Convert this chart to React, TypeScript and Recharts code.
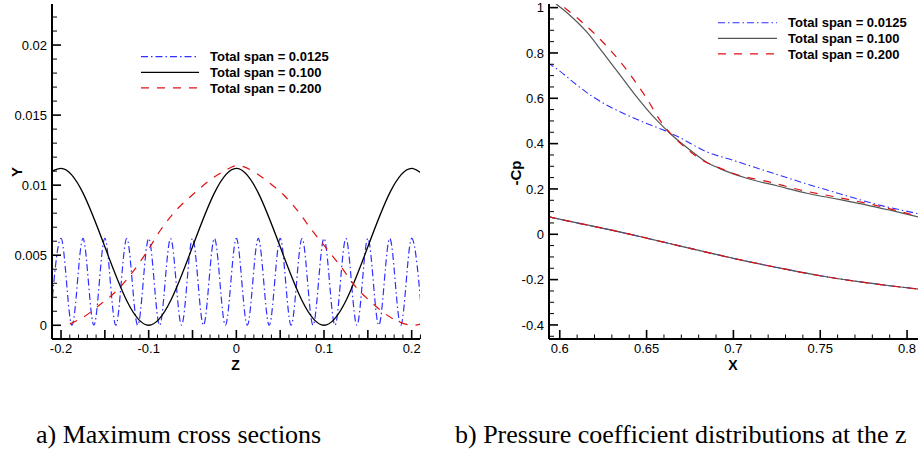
import React from "react";
import { Line, LineChart, XAxis, YAxis } from "recharts";

const SANS = '"Liberation Sans", Arial, Helvetica, sans-serif';
const SERIF = '"Liberation Serif", "Times New Roman", serif';

const BLUE = "#2f2fff";
const RED = "#e01010";

// ---- panel a) maximum cross sections ----
const zTickLabels = [-0.2, -0.1, 0, 0.1, 0.2];
const zMajorTicks = [-0.2, -0.15, -0.1, -0.05, 0, 0.05, 0.1, 0.15, 0.2];
const yTickLabels = [0, 0.005, 0.01, 0.015, 0.02];

const span0125Z = [
  -0.2125, -0.2, -0.1875, -0.175, -0.1625, -0.15, -0.1375, -0.125, -0.1125, -0.1, -0.0875, -0.075,
  -0.0625, -0.05, -0.0375, -0.025, -0.0125, 0, 0.0125, 0.025, 0.0375, 0.05, 0.0625, 0.075, 0.0875,
  0.1, 0.1125, 0.125, 0.1375, 0.15, 0.1625, 0.175, 0.1875, 0.2, 0.2125,
];
const span0125Y = [
  0, 0.0062, 0, 0.0062, 0, 0.0062, 0, 0.0062, 0, 0.0062, 0, 0.0062, 0, 0.0062, 0, 0.0062, 0, 0.0062,
  0, 0.0062, 0, 0.0062, 0, 0.0062, 0, 0.0062, 0, 0.0062, 0, 0.0062, 0, 0.0062, 0, 0.0062, 0,
];

const span100Z = [-0.21, -0.2, -0.1, 0, 0.1, 0.2, 0.21];
const span100Y = [0.011, 0.0112, 0, 0.0112, 0, 0.0112, 0.0109];

const span200Z = [
  -0.19, -0.174, -0.155, -0.136, -0.117, -0.1015, -0.0864, -0.0673, -0.0484, -0.0293, -0.0141, 0.001,
  0.024, 0.039, 0.054, 0.0696, 0.0848, 0.1038, 0.119, 0.138, 0.153, 0.168, 0.1837, 0.2026, 0.21,
];
const span200Y = [
  0.0001, 0.0006, 0.0015, 0.0025, 0.0039, 0.0053, 0.0068, 0.0083, 0.0094, 0.0104, 0.011, 0.0114,
  0.0108, 0.0101, 0.0093, 0.0082, 0.0069, 0.0054, 0.0042, 0.0026, 0.0017, 0.0009, 0.0003, 0, 0.0001,
];

// ---- panel b) pressure coefficient ----
const xTickLabels = [0.6, 0.65, 0.7, 0.75, 0.8];
const cpTickLabels = [-0.4, -0.2, 0, 0.2, 0.4, 0.6, 0.8, 1];

const cp0125UpperX = [0.593, 0.6, 0.6096, 0.619, 0.6288, 0.6385, 0.649, 0.6587, 0.6682, 0.6846, 0.7, 0.723, 0.7423, 0.7616, 0.78, 0.807];
const cp0125Upper = [0.757, 0.72, 0.66, 0.607, 0.563, 0.527, 0.492, 0.463, 0.43, 0.364, 0.326, 0.269, 0.222, 0.178, 0.137, 0.09];

const cp100UpperX = [0.593, 0.598, 0.605, 0.615, 0.625, 0.635, 0.645, 0.655, 0.665, 0.675, 0.6846, 0.6913, 0.7077, 0.725, 0.7423, 0.76, 0.777, 0.792, 0.807];
const cp100Upper = [1.05, 1.016, 0.972, 0.897, 0.8, 0.7, 0.6, 0.51, 0.435, 0.372, 0.318, 0.293, 0.247, 0.214, 0.181, 0.155, 0.129, 0.103, 0.076];

const cp200UpperX = [0.596, 0.6, 0.61, 0.62, 0.63, 0.64, 0.65, 0.658, 0.6654, 0.674, 0.6817, 0.6913, 0.7, 0.72, 0.74, 0.76, 0.78, 0.807];
const cp200Upper = [1.05, 1.019, 0.955, 0.885, 0.805, 0.71, 0.6, 0.5, 0.431, 0.372, 0.328, 0.295, 0.268, 0.232, 0.193, 0.163, 0.131, 0.078];

const cpLowerX = [0.593, 0.61, 0.63, 0.65, 0.67, 0.69, 0.71, 0.73, 0.75, 0.77, 0.79, 0.807];
const cpLower = [0.078, 0.05, 0.018, -0.017, -0.053, -0.089, -0.123, -0.154, -0.183, -0.207, -0.227, -0.242];

const legendLabels = ["Total span = 0.0125", "Total span = 0.100", "Total span = 0.200"];
const captions = ["a) Maximum cross sections", "b) Pressure coefficient distributions at the z"];

const pts = (xs: number[], ys: number[]) => xs.map((x, i) => ({ x, y: ys[i] }));

function steps(from: number, to: number, step: number) {
  const out: number[] = [];
  for (let v = from; v <= to + step / 2; v += step) out.push(Math.round(v * 1e6) / 1e6);
  return out;
}

const near = (v: number, arr: number[]) => arr.some((a) => Math.abs(a - v) < 1e-7);
const isMult = (v: number, m: number) => Math.abs(v / m - Math.round(v / m)) < 1e-6;

function BottomTick(props: any) {
  const { x, y, payload, labels, majorOf } = props;
  const v = payload.value;
  const major = majorOf(v);
  return (
    <g>
      <line x1={x} y1={y} x2={x} y2={y - (major ? 9 : 4.5)} stroke="#000" strokeWidth={major ? 1.6 : 1} />
      {near(v, labels) && (
        <text x={x} y={y + 13.5} textAnchor="middle" fontSize={13} fontFamily={SANS} fill="#000">
          {String(v)}
        </text>
      )}
    </g>
  );
}

function LeftTick(props: any) {
  const { x, y, payload, labels } = props;
  const v = payload.value;
  const major = near(v, labels);
  return (
    <g>
      <line x1={x} y1={y} x2={x + (major ? 9 : 5)} y2={y} stroke="#000" strokeWidth={major ? 1.6 : 1} />
      {major && (
        <text x={x - 5} y={y} dy={4.6} textAnchor="end" fontSize={13} fontFamily={SANS} fill="#000">
          {String(v)}
        </text>
      )}
    </g>
  );
}

function Legend({ left, top, lineLen, colors, dashes, widths }: any) {
  return (
    <g>
      {legendLabels.map((label, i) => {
        const y = top + i * 15.6;
        return (
          <g key={label}>
            <line x1={left} x2={left + lineLen} y1={y} y2={y} stroke={colors[i]} strokeWidth={widths[i]} strokeDasharray={dashes[i]} />
            <text x={left + lineLen + 11} y={y + 4.6} fontSize={13} fontWeight="bold" fontFamily={SANS} fill="#000">
              {label}
            </text>
          </g>
        );
      })}
    </g>
  );
}

const axisLine = { stroke: "#000", strokeWidth: 2 };

export default function App() {
  const zTicks = steps(-0.21, 0.21, 0.01);
  const yTicks = steps(0, 0.022, 0.001);
  const xTicks = steps(0.6, 0.8, 0.01);
  const cpTicks = steps(-0.45, 1.0, 0.05);

  return (
    <div style={{ position: "absolute", left: 0, top: 0, width: 919, height: 450, background: "#fff", overflow: "hidden" }}>
      <div style={{ position: "absolute", left: 0, top: 0 }}>
        <LineChart width={460} height={400} margin={{ top: 4, right: 40, bottom: 0, left: 0 }}>
          <XAxis
            dataKey="x"
            type="number"
            domain={[-0.2103, 0.2095]}
            allowDataOverflow
            ticks={zTicks}
            interval={0}
            height={61}
            tickSize={0}
            tickMargin={0}
            tickLine={false}
            axisLine={axisLine}
            tick={(p: any) => <BottomTick {...p} labels={zTickLabels} majorOf={(v: number) => near(v, zMajorTicks)} />}
          />
          <YAxis
            dataKey="y"
            type="number"
            domain={[-0.00098, 0.02293]}
            allowDataOverflow
            ticks={yTicks}
            interval={0}
            width={52}
            tickSize={0}
            tickMargin={0}
            tickLine={false}
            axisLine={axisLine}
            tick={(p: any) => <LeftTick {...p} labels={yTickLabels} />}
          />
          <Line data={pts(span0125Z, span0125Y)} dataKey="y" type="monotone" stroke={BLUE} strokeWidth={1.2} strokeDasharray="7 3 1.5 3" dot={false} activeDot={false} isAnimationActive={false} />
          <Line data={pts(span100Z, span100Y)} dataKey="y" type="monotone" stroke="#000" strokeWidth={1.3} dot={false} activeDot={false} isAnimationActive={false} />
          <Line data={pts(span200Z, span200Y)} dataKey="y" type="monotone" stroke={RED} strokeWidth={1.2} strokeDasharray="8 8" dot={false} activeDot={false} isAnimationActive={false} />
        </LineChart>
      </div>

      <div style={{ position: "absolute", left: 460, top: 0 }}>
        <LineChart width={459} height={400} margin={{ top: 4, right: 1, bottom: 0, left: 0 }}>
          <XAxis
            dataKey="x"
            type="number"
            domain={[0.5938, 0.8063]}
            allowDataOverflow
            ticks={xTicks}
            interval={0}
            height={61}
            tickSize={0}
            tickMargin={0}
            tickLine={false}
            axisLine={axisLine}
            tick={(p: any) => <BottomTick {...p} labels={xTickLabels} majorOf={(v: number) => isMult(v, 0.05)} />}
          />
          <YAxis
            dataKey="y"
            type="number"
            domain={[-0.462, 1.016]}
            allowDataOverflow
            ticks={cpTicks}
            interval={0}
            width={89}
            tickSize={0}
            tickMargin={0}
            tickLine={false}
            axisLine={axisLine}
            tick={(p: any) => <LeftTick {...p} labels={cpTickLabels} />}
          />
          <Line data={pts(cp0125UpperX, cp0125Upper)} dataKey="y" type="monotone" stroke={BLUE} strokeWidth={1.1} strokeDasharray="7 3 1.5 3" dot={false} activeDot={false} isAnimationActive={false} />
          <Line data={pts(cpLowerX, cpLower)} dataKey="y" type="monotone" stroke={BLUE} strokeWidth={1.1} strokeDasharray="7 3 1.5 3" dot={false} activeDot={false} isAnimationActive={false} />
          <Line data={pts(cp100UpperX, cp100Upper)} dataKey="y" type="monotone" stroke="#555" strokeWidth={1.2} dot={false} activeDot={false} isAnimationActive={false} />
          <Line data={pts(cpLowerX, cpLower)} dataKey="y" type="monotone" stroke="#555" strokeWidth={1.2} dot={false} activeDot={false} isAnimationActive={false} />
          <Line data={pts(cp200UpperX, cp200Upper)} dataKey="y" type="monotone" stroke={RED} strokeWidth={1.2} strokeDasharray="8 8" dot={false} activeDot={false} isAnimationActive={false} />
          <Line data={pts(cpLowerX, cpLower)} dataKey="y" type="monotone" stroke={RED} strokeWidth={1.2} strokeDasharray="8 8" dot={false} activeDot={false} isAnimationActive={false} />
        </LineChart>
      </div>

      <svg width={919} height={450} style={{ position: "absolute", left: 0, top: 0, pointerEvents: "none" }}>
        <Legend left={141} top={56.7} lineLen={58} colors={[BLUE, "#000", RED]} dashes={["7 3 1.5 3", undefined, "8 8"]} widths={[1.2, 1.3, 1.2]} />
        <Legend left={718} top={22.7} lineLen={59} colors={[BLUE, "#555", RED]} dashes={["7 3 1.5 3", undefined, "8 8"]} widths={[1.1, 1.2, 1.2]} />

        <text x={17} y={172} transform="rotate(-90 17 172)" dy={5} textAnchor="middle" fontSize={15} fontWeight="bold" fontFamily={SANS}>Y</text>
        <text x={235.5} y={370} textAnchor="middle" fontSize={14} fontWeight="bold" fontFamily={SANS}>Z</text>
        <text x={516} y={173} transform="rotate(-90 516 173)" dy={5} textAnchor="middle" fontSize={15} fontWeight="bold" fontFamily={SANS}>-Cp</text>
        <text x={733} y={370} textAnchor="middle" fontSize={14} fontWeight="bold" fontFamily={SANS}>X</text>

        <text x={36} y={443} fontSize={26} fontFamily={SERIF} fill="#000">{captions[0]}</text>
        <text x={455} y={443} fontSize={26} fontFamily={SERIF} fill="#000">{captions[1]}</text>
      </svg>
    </div>
  );
}
